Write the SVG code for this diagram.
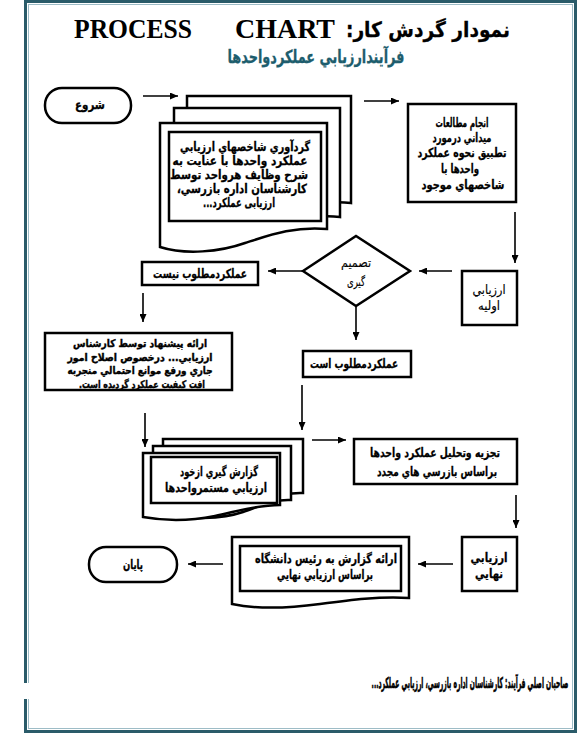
<svg xmlns="http://www.w3.org/2000/svg" width="580" height="734" viewBox="0 0 580 734">
<defs>
<marker id="ah" markerUnits="userSpaceOnUse" markerWidth="8" markerHeight="7" refX="8" refY="3.5" orient="auto">
<path d="M0,0 L8,3.5 L0,7 z" fill="#000"/>
</marker>
</defs>
<style>
.b{fill:#fff;stroke:#000;stroke-width:2.5}
.t{font-family:"DejaVu Sans",sans-serif;font-weight:bold;font-size:12.5px;text-anchor:middle;direction:rtl;fill:#000;stroke:#000;stroke-width:0.3}
.s{font-size:10.5px;stroke-width:0.4}
.n{font-weight:normal;stroke-width:0.15}
.c{stroke:#000;stroke-width:1.6;fill:none;marker-end:url(#ah)}
</style>
<rect x="0" y="0" width="580" height="734" fill="#fff"/>
<rect x="25.5" y="1.5" width="550" height="730" fill="none" stroke="#2a5b69" stroke-width="3"/>
<rect x="28.5" y="4.5" width="544" height="724" fill="none" stroke="#9dbcc6" stroke-width="1"/>
<rect x="16" y="683" width="14" height="16" fill="#fff"/>

<g id="title">
<text x="74" y="38" font-family="Liberation Serif" font-weight="bold" font-size="27" textLength="118" lengthAdjust="spacingAndGlyphs">PROCESS</text>
<text x="235" y="38" font-family="Liberation Serif" font-weight="bold" font-size="27" textLength="100" lengthAdjust="spacingAndGlyphs">CHART</text>
<text x="428" y="37" font-family="DejaVu Sans,sans-serif" font-weight="bold" font-size="21" direction="rtl" text-anchor="middle" textLength="164" lengthAdjust="spacingAndGlyphs" stroke="#000" stroke-width="0.3">نمودار گردش کار:</text>
<text x="316" y="63" font-family="DejaVu Sans,sans-serif" font-weight="bold" font-size="18" direction="rtl" text-anchor="middle" fill="#1d5d6d" stroke="#1d5d6d" stroke-width="0.3" textLength="177" lengthAdjust="spacingAndGlyphs">فرآيندارزيابي عملكردواحدها</text>
</g>

<g id="connectors">
<path class="c" d="M143,96 H178"/>
<path class="c" d="M364,101 H399"/>
<path class="c" d="M515,212 V263"/>
<path class="c" d="M452,271 H419"/>
<path class="c" d="M303,271 H268"/>
<path class="c" d="M143,293 V322"/>
<path class="c" d="M356,306 V340"/>
<path class="c" d="M145,413 V447"/>
<path class="c" d="M302,385 V430"/>
<path class="c" d="M312,440 H346"/>
<path class="c" d="M516,495 V528"/>
<path class="c" d="M453,564 H418"/>
<path class="c" d="M223,564 H188"/>
</g>

<g id="start">
<rect class="b" x="45" y="88" width="86" height="35" rx="17"/>
<text class="t" x="90" y="109" textLength="30" lengthAdjust="spacingAndGlyphs">شروع</text>
</g>

<g id="collect">
<path class="b" d="M187,96 H351 V203 C320,200 300,208 280,215 C255,224 220,226 187,220 Z"/>
<path class="b" d="M174,108 H340 V217 C310,214 290,222 270,229 C245,238 205,240 174,233 Z"/>
<path class="b" d="M160,123 H327 V229 C295,226 270,235 245,243 C220,252 185,255 160,247 Z"/>
<rect class="b" x="169" y="132" width="152" height="89"/>
<text class="t" x="245" y="151" textLength="130" lengthAdjust="spacingAndGlyphs">گردآوري شاخصهاي ارزيابي</text>
<text class="t" x="240" y="165" textLength="135" lengthAdjust="spacingAndGlyphs">عملكرد واحدها با عنايت به</text>
<text class="t" x="239" y="179" textLength="138" lengthAdjust="spacingAndGlyphs">شرح وظايف هرواحد توسط</text>
<text class="t" x="242" y="193" textLength="130" lengthAdjust="spacingAndGlyphs">كارشناسان اداره بازرسي،</text>
<text class="t" x="239" y="207" textLength="72" lengthAdjust="spacingAndGlyphs">ارزيابی عملكرد...</text>
</g>

<g id="field">
<rect class="b" x="408" y="104" width="108" height="98"/>
<text class="t" x="462" y="127" textLength="53" lengthAdjust="spacingAndGlyphs">انجام مطالعات</text>
<text class="t" x="462" y="142" textLength="59" lengthAdjust="spacingAndGlyphs">ميداني درمورد</text>
<text class="t" x="462" y="157" textLength="89" lengthAdjust="spacingAndGlyphs">تطبيق نحوه عملكرد</text>
<text class="t" x="460" y="173" textLength="38" lengthAdjust="spacingAndGlyphs">واحدها با</text>
<text class="t" x="463" y="189" textLength="83" lengthAdjust="spacingAndGlyphs">شاخصهاي موجود</text>
</g>

<g id="initial">
<rect class="b" x="462" y="271" width="55" height="54"/>
<text class="t n" x="489" y="294" textLength="33" lengthAdjust="spacingAndGlyphs">ارزيابي</text>
<text class="t n" x="489" y="310" textLength="22" lengthAdjust="spacingAndGlyphs">اوليه</text>
</g>

<g id="decision">
<polygon class="b" points="303,271 356,236 410,271 356,306"/>
<text class="t n" x="356" y="267" textLength="30" lengthAdjust="spacingAndGlyphs">تصميم</text>
<text class="t n" x="356" y="286" textLength="18" lengthAdjust="spacingAndGlyphs">گيری</text>
</g>

<g id="notok">
<rect class="b" x="142" y="262" width="116" height="23"/>
<text class="t" x="200" y="278" textLength="94" lengthAdjust="spacingAndGlyphs">عملكردمطلوب نيست</text>
</g>

<g id="ok">
<rect class="b" x="303" y="351" width="108" height="26"/>
<text class="t" x="354" y="368" textLength="88" lengthAdjust="spacingAndGlyphs">عملكردمطلوب است</text>
</g>

<g id="suggest">
<rect class="b" x="45" y="333" width="187" height="57"/>
<text class="t s" x="140" y="347" textLength="134" lengthAdjust="spacingAndGlyphs">ارائه پيشنهاد توسط كارشناس</text>
<text class="t s" x="140" y="360.5" textLength="145" lengthAdjust="spacingAndGlyphs">ارزيابي... درخصوص اصلاح امور</text>
<text class="t s" x="140" y="374" textLength="145" lengthAdjust="spacingAndGlyphs">جاري ورفع موانع احتمالي منجربه</text>
<text class="t s" x="142" y="387.5" textLength="126" lengthAdjust="spacingAndGlyphs">افت كيفيت عملكرد گرديده است.</text>
</g>

<g id="report">
<path class="b" d="M163,439 H303 V493 C285,492 270,500 255,505 C235,512 200,513 163,508 Z"/>
<path class="b" d="M153,446 H291 V500 C273,499 258,507 243,512 C223,519 188,520 153,515 Z"/>
<path class="b" d="M143,453 H280 V505 C255,505 235,512 215,516 C190,521 165,521 143,517 Z"/>
<rect class="b" x="151" y="457" width="126" height="46"/>
<text class="t" x="219" y="476" textLength="78" lengthAdjust="spacingAndGlyphs">گزارش گيري ازخود</text>
<text class="t" x="216" y="492" textLength="102" lengthAdjust="spacingAndGlyphs">ارزيابي مستمرواحدها</text>
</g>

<g id="analysis">
<rect class="b" x="354" y="439" width="163" height="45"/>
<text class="t" x="435" y="457" textLength="130" lengthAdjust="spacingAndGlyphs">تجزيه وتحليل عملكرد واحدها</text>
<text class="t" x="437" y="476" textLength="120" lengthAdjust="spacingAndGlyphs">براساس بازرسي هاي مجدد</text>
</g>

<g id="final">
<rect class="b" x="462" y="537" width="55" height="54"/>
<text class="t" x="489" y="562" textLength="37" lengthAdjust="spacingAndGlyphs">ارزيابي</text>
<text class="t" x="489" y="578" textLength="28" lengthAdjust="spacingAndGlyphs">نهايي</text>
</g>

<g id="present">
<path class="b" d="M232,537 H409 V598 C380,596 350,600 320,604 C290,608 260,610 232,604 Z"/>
<rect class="b" x="240" y="546" width="161" height="45"/>
<text class="t" x="326" y="563" textLength="142" lengthAdjust="spacingAndGlyphs">ارائه گزارش به رئيس دانشگاه</text>
<text class="t" x="325" y="579" textLength="96" lengthAdjust="spacingAndGlyphs">براساس ارزيابي نهايي</text>
</g>

<g id="end">
<rect class="b" x="89" y="547" width="88" height="35" rx="17"/>
<text class="t" x="133" y="569" textLength="20" lengthAdjust="spacingAndGlyphs">پايان</text>
</g>

<g id="footer">
<text transform="translate(470,688) scale(0.4,1)" x="0" y="0" font-family="DejaVu Sans,sans-serif" font-weight="bold" font-size="15" direction="rtl" text-anchor="middle" stroke="#000" stroke-width="0.6" textLength="492" lengthAdjust="spacingAndGlyphs">صاحبان اصلي فرآيند: كارشناسان اداره بازرسي، ارزيابي عملكرد...</text>
</g>
</svg>
